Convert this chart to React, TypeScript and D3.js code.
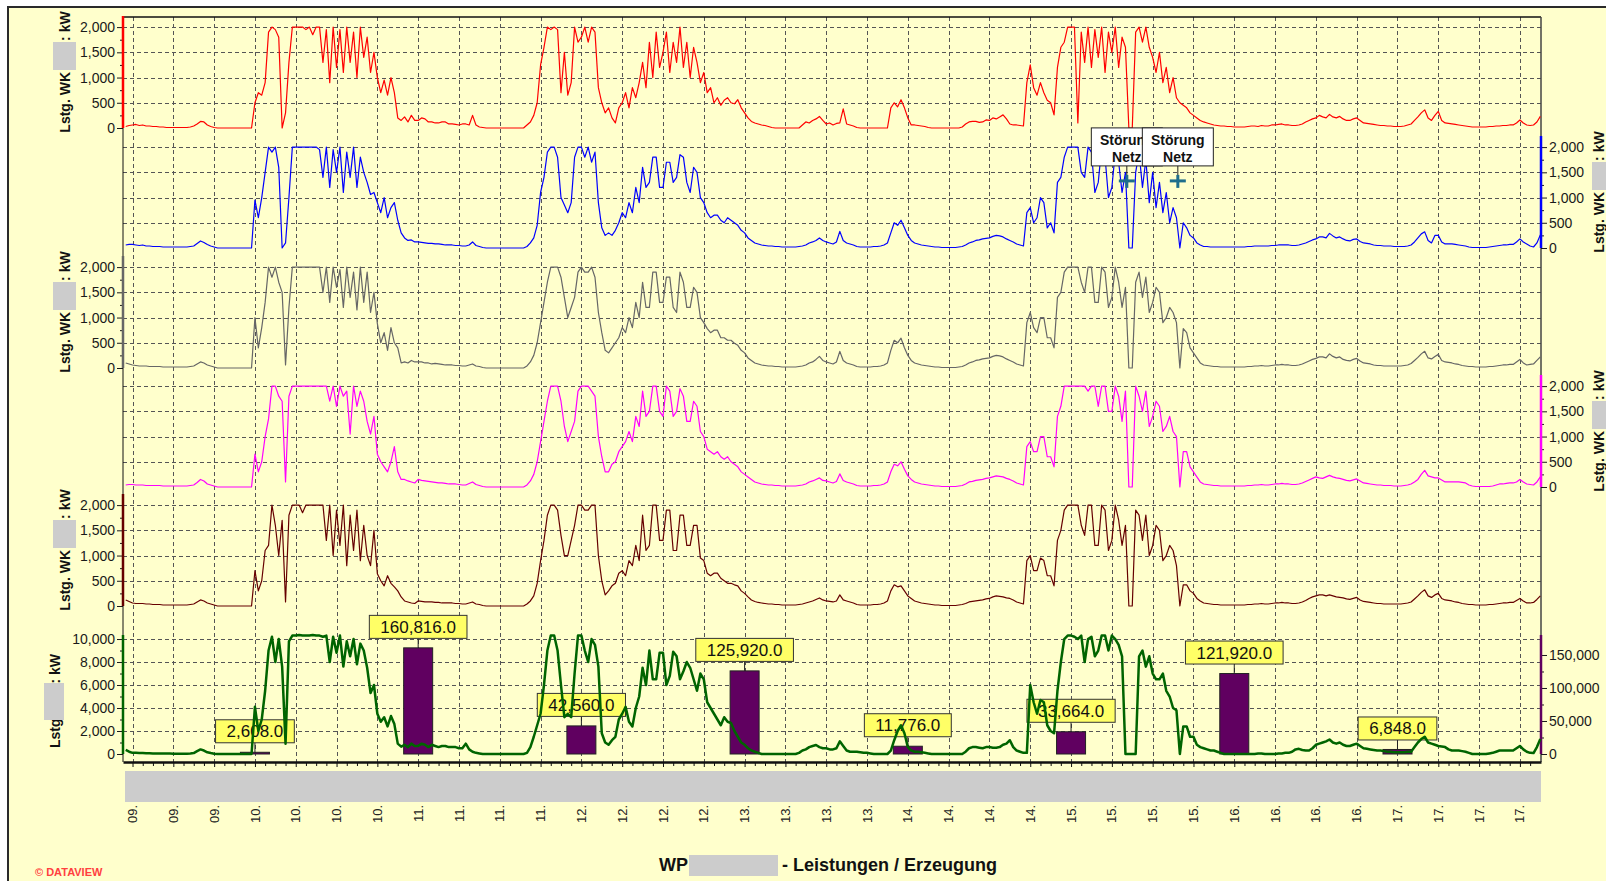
import { useRef, useEffect } from "react";
import * as d3 from "d3";

// half-hourly samples, first value = day 09, 05:00 (hours counted from day 09 00:00)
const firstHour = 5;
const stepHours = 0.5;
const dayLabels = ["09.", "10.", "11.", "12.", "13.", "14.", "15.", "16.", "17."];

const wk1Power = [
    30, 50, 60, 70, 50, 60, 40, 40, 30, 30, 20, 20, 10, 10, 10, 10, 10, 10, 10, 20, 40, 80, 130, 120, 60, 30, 10, 0, 0, 0, 0, 0, 0, 0, 0, 0, 0, 0,
    500, 700, 650, 900, 1900, 2000, 1950, 1800, 0, 300, 1300, 2000, 2000, 2000, 2000, 1950, 2000, 1850, 2000, 2000, 1300, 1950, 900, 2000,
    1200, 1950, 1100, 2000, 1300, 1900, 1000, 2000, 1400, 1800, 1100, 1500, 1000, 700, 950, 650, 1000, 700, 200, 150, 220, 120, 250, 150,
    150, 200, 180, 120, 120, 100, 100, 120, 120, 80, 80, 70, 60, 80, 80, 60, 250, 60, 20, 10, 0, 0, 0, 0, 0, 0,
    0, 0, 0, 0, 0, 0, 60, 120, 250, 500, 1250, 1600, 2000, 1950, 2000, 1950, 700, 1500, 650, 900, 2000, 1700,
    1800, 2000, 1700, 2000, 1900, 800, 500, 300, 400, 200, 100, 400, 500, 700, 400, 800, 600, 900, 1300, 800, 1700, 1000, 1900, 1200,
    1500, 1900, 1100, 1700, 1300, 2000, 1200, 1700, 1000, 1600, 1300, 900, 1100, 700, 800, 500, 600, 450, 550, 600, 500, 480, 560, 400,
    300, 200, 130, 100, 80, 60, 50, 30, 10, 0, 0, 0, 0, 0, 0, 0, 0, 60, 120, 100, 150, 180, 230, 150,
    80, 100, 60, 90, 100, 380, 80, 60, 40, 10, 0, 0, 0, 0, 0, 0, 0, 0, 0, 400, 500, 420, 560, 400,
    200, 60, 60, 50, 40, 30, 10, 0, 0, 0, 0, 0, 0, 0, 0, 0, 20, 80, 120, 130, 130, 110, 120, 160,
    150, 200, 180, 220, 260, 180, 80, 60, 60, 50, 40, 900, 1250, 800, 650, 900, 700, 550, 500, 260, 1200, 1600, 1700, 2000,
    2000, 2000, 100, 1900, 1300, 2000, 1200, 1950, 1400, 2000, 1100, 1900, 1500, 2000, 1200, 1800, 1600, 0, 0, 1900, 2000, 1700, 2000, 1600,
    1400, 1100, 1500, 900, 1200, 700, 1000, 600, 500, 450, 400, 300, 250, 200, 150, 120, 100, 80, 60, 50, 40, 40, 30, 30,
    20, 20, 20, 20, 30, 40, 40, 30, 50, 40, 40, 60, 60, 70, 80, 60, 60, 50, 50, 60, 80, 120, 150, 180,
    200, 250, 220, 200, 270, 220, 200, 230, 180, 150, 150, 180, 200, 150, 100, 90, 80, 70, 60, 50, 50, 40, 40, 30,
    30, 30, 40, 60, 80, 150, 220, 300, 360, 200, 150, 250, 330, 150, 100, 90, 80, 70, 60, 50, 40, 30,
    20, 20, 20, 20, 20, 30, 30, 40, 40, 50, 50, 60, 60, 100, 160, 100, 60, 50, 60, 120, 230,
];

const wk2Power = [
    60, 70, 70, 60, 50, 60, 40, 40, 30, 30, 30, 20, 20, 20, 20, 20, 20, 20, 20, 30, 40, 90, 140, 110, 70, 40, 20, 0, 0, 0, 0, 0, 0, 0, 0, 0, 0, 0,
    950, 600, 1000, 1500, 2000, 1900, 2000, 1600, 0, 100, 1000, 2000, 2000, 2000, 2000, 2000, 2000, 2000, 2000, 1950, 1400, 2000, 1200, 1950,
    1500, 2000, 1100, 1900, 1400, 2000, 1200, 1800, 1500, 1300, 1060, 1100, 900, 700, 1000, 600, 800, 900, 550, 300, 200, 150, 160, 120,
    120, 110, 100, 90, 90, 80, 80, 70, 60, 60, 60, 50, 50, 40, 40, 60, 120, 50, 30, 10, 0, 0, 0, 0, 0, 0,
    0, 0, 0, 0, 0, 0, 30, 100, 200, 450, 1100, 1400, 1900, 2000, 2000, 1800, 1000, 850, 700, 900, 1800, 2000,
    2000, 1800, 2000, 1700, 1900, 900, 400, 250, 300, 250, 350, 500, 700, 600, 900, 700, 1200, 900, 1600, 1200, 1300, 1800, 1800, 1200,
    1200, 1700, 1700, 1300, 1400, 1850, 1800, 1300, 1100, 1600, 1500, 1000, 900, 700, 600, 650, 650, 550, 500, 600, 550, 500, 450, 350,
    300, 200, 150, 100, 80, 60, 50, 40, 40, 30, 30, 20, 20, 20, 20, 20, 30, 40, 60, 100, 120, 150, 200, 150,
    120, 100, 80, 120, 330, 150, 100, 80, 60, 30, 20, 20, 20, 20, 30, 30, 40, 60, 100, 300, 500, 450, 550, 400,
    250, 150, 100, 80, 60, 50, 40, 30, 20, 20, 10, 10, 10, 10, 10, 20, 30, 60, 100, 120, 150, 160, 180, 190,
    200, 230, 250, 240, 220, 180, 150, 120, 80, 60, 40, 700, 800, 500, 600, 1000, 900, 400, 500, 300, 1300, 1400, 1800, 2000,
    2000, 2000, 2000, 1500, 1400, 2000, 1900, 1100, 1300, 2000, 1800, 1000, 1200, 1900, 1700, 1100, 1500, 0, 0, 1500, 1900, 1200, 1750, 900,
    1500, 800, 1300, 700, 1100, 500, 800, 600, 0, 500, 400, 250, 200, 100, 60, 30, 30, 20, 20, 20, 20, 20, 20, 20,
    20, 20, 20, 20, 30, 30, 40, 40, 40, 40, 40, 50, 50, 60, 60, 60, 60, 50, 50, 60, 80, 100, 130, 160,
    180, 220, 220, 200, 290, 240, 200, 220, 180, 150, 140, 170, 180, 130, 100, 90, 80, 60, 50, 50, 40, 40, 40, 30,
    30, 30, 30, 40, 60, 120, 200, 280, 320, 150, 100, 250, 250, 120, 80, 80, 80, 70, 60, 50, 40, 20,
    10, 10, 10, 10, 10, 20, 30, 40, 50, 60, 60, 70, 70, 120, 180, 120, 80, 40, 20, 100, 260,
];

const wk3Power = [
    100, 80, 60, 50, 40, 40, 40, 30, 30, 30, 30, 20, 20, 20, 20, 20, 20, 20, 20, 30, 40, 80, 120, 100, 60, 40, 20, 0, 0, 0, 0, 0, 0, 0, 0, 0, 0, 0,
    1000, 400, 800, 1300, 2000, 1800, 2000, 1700, 1500, 60, 1200, 2000, 2000, 2000, 2000, 2000, 2000, 2000, 2000, 2000, 1500, 2000, 1300, 2000,
    1600, 1950, 1200, 2000, 1400, 1900, 1150, 2000, 1300, 1900, 1100, 1500, 880, 500, 700, 350, 800, 500, 400, 100, 120, 100, 150, 120,
    120, 120, 100, 100, 80, 90, 80, 70, 60, 60, 60, 50, 50, 40, 40, 60, 80, 40, 30, 10, 0, 0, 0, 0, 0, 0,
    0, 0, 0, 0, 0, 0, 40, 120, 250, 500, 900, 1300, 1700, 2000, 2000, 2000, 1800, 1400, 1000, 1200, 1400, 1900,
    2000, 1900, 1900, 2000, 1800, 1100, 700, 350, 300, 400, 500, 600, 800, 700, 1000, 800, 1300, 1000, 1700, 1200, 1200, 1900, 1900, 1300,
    1300, 1800, 1800, 1200, 1100, 1900, 1700, 1200, 1200, 1600, 1500, 1000, 900, 780, 700, 750, 750, 600, 600, 550, 550, 490, 450, 350,
    300, 200, 150, 100, 80, 60, 50, 40, 40, 30, 30, 20, 20, 20, 20, 20, 30, 40, 60, 100, 120, 170, 230, 150,
    120, 100, 80, 120, 330, 150, 100, 80, 60, 30, 20, 20, 20, 20, 30, 30, 40, 60, 100, 350, 550, 500, 590, 400,
    250, 150, 100, 80, 60, 50, 40, 30, 20, 20, 10, 10, 10, 10, 10, 20, 30, 60, 100, 120, 150, 160, 180, 190,
    200, 230, 250, 240, 220, 180, 150, 120, 80, 60, 40, 900, 1100, 800, 700, 1000, 1000, 600, 600, 400, 1400, 1500, 1900, 2000,
    2000, 2000, 2000, 1700, 1500, 2000, 2000, 1300, 1300, 2000, 1900, 1200, 1400, 2000, 1700, 1200, 1600, 0, 0, 1700, 1900, 1400, 1800, 1100,
    1300, 1600, 1500, 900, 1000, 1200, 1100, 900, 0, 780, 700, 400, 300, 200, 100, 60, 50, 40, 30, 30, 20, 20, 20, 20,
    20, 20, 20, 20, 30, 30, 40, 40, 50, 40, 40, 50, 60, 60, 70, 60, 60, 50, 50, 60, 80, 110, 140, 170,
    190, 220, 220, 200, 280, 230, 200, 220, 170, 150, 140, 170, 190, 140, 100, 90, 80, 60, 50, 50, 40, 40, 40, 40,
    40, 40, 50, 60, 90, 150, 210, 280, 330, 200, 180, 230, 270, 150, 120, 110, 100, 80, 70, 50, 40, 30,
    30, 20, 20, 20, 20, 30, 30, 40, 50, 60, 60, 70, 70, 120, 170, 100, 60, 70, 80, 150, 220,
];

const wk4Power = [
    40, 50, 50, 40, 40, 40, 30, 30, 30, 30, 30, 20, 20, 20, 20, 20, 20, 20, 20, 30, 40, 90, 150, 120, 60, 40, 20, 0, 0, 0, 0, 0, 0, 0, 0, 0, 0, 0,
    650, 300, 500, 1000, 1350, 2000, 2000, 1800, 1700, 100, 1800, 2000, 2000, 2000, 2000, 2000, 2000, 2000, 2000, 2000, 2000, 2000, 1700, 2000,
    1600, 2000, 1800, 1900, 1050, 2000, 1600, 1900, 1700, 1300, 1050, 1400, 650, 500, 400, 300, 500, 800, 300, 150, 150, 120, 100, 80,
    150, 130, 120, 110, 100, 90, 80, 80, 70, 60, 60, 60, 50, 40, 40, 70, 100, 50, 30, 10, 0, 0, 0, 0, 0, 0,
    0, 0, 0, 0, 0, 0, 40, 120, 250, 500, 900, 1300, 1700, 2000, 2000, 2000, 1700, 1200, 900, 1100, 1300, 1900,
    2000, 2000, 2000, 1900, 1800, 1000, 600, 300, 300, 450, 500, 700, 800, 900, 1100, 900, 1400, 1200, 1900, 1400, 1500, 2000, 2000, 1500,
    1400, 2000, 1900, 1400, 1500, 1950, 1800, 1300, 1300, 1700, 1600, 1100, 1000, 750, 700, 650, 700, 600, 550, 600, 500, 450, 400, 300,
    250, 200, 150, 100, 80, 60, 50, 40, 40, 30, 30, 20, 20, 20, 20, 20, 30, 40, 60, 100, 120, 150, 180, 130,
    120, 100, 80, 110, 260, 130, 100, 80, 60, 30, 20, 20, 20, 20, 30, 30, 40, 60, 100, 300, 450, 420, 500, 350,
    220, 150, 100, 80, 60, 50, 40, 30, 20, 20, 10, 10, 10, 10, 10, 20, 30, 60, 100, 110, 130, 140, 150, 170,
    180, 200, 220, 210, 200, 170, 150, 120, 80, 60, 40, 800, 900, 700, 700, 1000, 1000, 600, 600, 400, 1400, 1600, 2000, 2000,
    2000, 2000, 2000, 2000, 2000, 1900, 2000, 2000, 1600, 2000, 2000, 1500, 1500, 2000, 1800, 1300, 1900, 0, 0, 2000, 1800, 1500, 1900, 1200,
    1400, 1700, 1600, 1100, 1200, 1400, 1100, 1000, 0, 700, 700, 400, 300, 200, 100, 60, 50, 40, 30, 30, 20, 20, 20, 20,
    20, 20, 20, 20, 30, 30, 40, 40, 50, 40, 40, 50, 60, 60, 70, 60, 60, 50, 50, 60, 80, 110, 140, 170,
    200, 180, 170, 200, 230, 200, 180, 170, 150, 130, 120, 140, 160, 120, 80, 70, 60, 50, 40, 40, 30, 30, 30, 20,
    20, 20, 30, 40, 60, 100, 150, 250, 330, 220, 200, 180, 180, 140, 100, 100, 100, 100, 100, 90, 80, 40,
    20, 10, 10, 10, 10, 10, 20, 40, 60, 60, 70, 80, 80, 100, 150, 100, 60, 50, 40, 100, 200,
];

const wk5Power = [
    120, 90, 60, 50, 50, 50, 40, 40, 30, 30, 30, 20, 20, 20, 20, 20, 20, 20, 20, 30, 40, 80, 120, 100, 60, 40, 20, 0, 0, 0, 0, 0, 0, 0, 0, 0, 0, 0,
    700, 300, 500, 1100, 1200, 2000, 1600, 1000, 1700, 80, 1800, 2000, 2000, 2000, 1850, 2000, 2000, 2000, 2000, 2000, 2000, 1300, 2000, 1000,
    1900, 1200, 2000, 800, 1800, 1100, 1900, 900, 1600, 1000, 800, 1500, 640, 500, 400, 600, 450, 380, 300, 180, 100, 80, 60, 50,
    100, 90, 80, 80, 80, 70, 70, 60, 60, 60, 60, 50, 50, 40, 40, 60, 80, 40, 30, 10, 0, 0, 0, 0, 0, 0,
    0, 0, 0, 0, 0, 0, 40, 100, 200, 450, 900, 1300, 1800, 2000, 2000, 1900, 1400, 1000, 1000, 1300, 1600, 2000,
    2000, 1900, 1900, 2000, 2000, 1000, 500, 220, 300, 400, 450, 650, 700, 600, 900, 800, 1200, 900, 1800, 1100, 1200, 2000, 2000, 1300,
    1300, 1900, 1900, 1100, 1100, 1800, 1800, 1200, 1200, 1600, 1600, 950, 900, 650, 600, 650, 650, 550, 500, 450, 450, 420, 400, 300,
    250, 180, 120, 90, 70, 60, 50, 40, 40, 30, 30, 20, 20, 20, 20, 20, 30, 40, 60, 80, 100, 130, 160, 120,
    100, 90, 80, 100, 220, 120, 100, 80, 60, 30, 20, 20, 20, 20, 30, 30, 40, 60, 100, 300, 420, 380, 400, 300,
    200, 150, 100, 80, 60, 50, 40, 30, 20, 20, 10, 10, 10, 10, 10, 20, 30, 50, 80, 90, 100, 110, 120, 140,
    150, 180, 200, 190, 180, 160, 150, 120, 80, 60, 40, 900, 1000, 700, 700, 950, 900, 600, 600, 400, 1300, 1500, 1900, 2000,
    2000, 2000, 2000, 1600, 1400, 2000, 2000, 1200, 1200, 2000, 1900, 1100, 1300, 2000, 1700, 1200, 1600, 0, 0, 1900, 1800, 1300, 1800, 1000,
    1200, 1600, 1500, 900, 1000, 1200, 1100, 800, 0, 420, 420, 300, 250, 150, 100, 60, 50, 40, 30, 30, 20, 20, 20, 20,
    20, 20, 20, 20, 30, 30, 40, 40, 50, 40, 40, 50, 60, 60, 70, 60, 60, 50, 50, 60, 80, 110, 150, 180,
    200, 220, 220, 200, 220, 200, 180, 170, 160, 140, 130, 150, 170, 120, 90, 80, 70, 60, 50, 50, 40, 40, 40, 40,
    40, 40, 50, 60, 80, 140, 200, 270, 320, 200, 170, 220, 250, 150, 120, 110, 100, 80, 70, 50, 40, 30,
    30, 20, 20, 20, 20, 30, 30, 40, 50, 60, 60, 70, 70, 110, 150, 100, 60, 60, 70, 130, 200,
];

const parkPower = [
    350, 200, 100, 100, 80, 90, 60, 60, 50, 50, 50, 40, 40, 40, 30, 30, 30, 30, 30, 50, 80, 250, 400, 300, 150, 80, 30, 0, 0, 0, 0, 0, 0, 0, 0, 0, 0, 0,
    4100, 2000, 3000, 5500, 9000, 10200, 8000, 10000, 7600, 900, 9800, 10300, 10300, 10350, 10300, 10300, 10300, 10350, 10300, 10300, 10200, 10300, 8000, 10200,
    8800, 10300, 7600, 9800, 8500, 10000, 7800, 9600, 9000, 7500, 5300, 6000, 3500, 2800, 3200, 2400, 3300, 2600, 900, 640, 800, 600, 900, 700,
    700, 900, 800, 600, 800, 700, 600, 700, 700, 600, 600, 600, 500, 500, 900, 400, 200, 100, 50, 0, 0, 0, 0, 0, 0, 0,
    0, 0, 0, 0, 0, 0, 100, 600, 1500, 2500, 3500, 6000, 9000, 10300, 10300, 9000, 6000, 3200, 3500, 3200, 7000, 10300,
    10300, 9000, 8000, 10000, 9500, 7600, 1800, 1000, 800, 1200, 1500, 3000, 3500, 4100, 2800, 2400, 4000, 5000, 7500, 6000, 9000, 6500, 6500, 8800,
    8800, 6000, 6800, 8900, 8500, 6500, 7200, 8000, 7500, 6500, 5500, 7000, 6500, 4500, 4000, 3500, 3000, 2500, 3200, 2800, 2700, 2000, 1500, 1000,
    800, 500, 300, 200, 100, 0, 0, 0, 0, 0, 0, 0, 0, 0, 0, 0, 100, 300, 400, 600, 700, 780, 600, 500,
    500, 400, 400, 500, 1100, 700, 300, 200, 200, 200, 150, 100, 100, 50, 0, 0, 0, 0, 0, 300, 1200, 2000, 2500, 1800,
    600, 300, 200, 200, 150, 100, 50, 0, 0, 0, 0, 0, 0, 0, 0, 0, 0, 200, 500, 600, 600, 550, 500, 600,
    600, 550, 550, 600, 800, 900, 1200, 600, 300, 200, 100, 100, 6000, 4500, 3500, 4700, 4500, 2500, 2000, 1800, 5500, 8000, 10000, 10300,
    10300, 10200, 10000, 10300, 8000, 10000, 10200, 8500, 9000, 10300, 10300, 9000, 10300, 10000, 9500, 8500, 0, 0, 0, 0, 8500, 9000, 7600, 8500,
    7000, 6500, 6500, 7000, 5500, 5000, 4000, 3800, 0, 2400, 2400, 1500, 1500, 800, 600, 500, 400, 300, 300, 200, 100, 0, 0, 0,
    0, 0, 0, 0, 0, 0, 0, 50, 50, 0, 0, 0, 0, 50, 50, 100, 100, 200, 400, 450, 350, 300, 300, 500,
    800, 900, 1000, 1100, 1260, 1000, 900, 1000, 800, 700, 700, 800, 900, 700, 500, 450, 400, 350, 300, 300, 250, 200, 200, 150,
    150, 150, 150, 200, 200, 600, 1000, 1300, 1500, 1000, 900, 800, 700, 650, 600, 400, 300, 300, 300, 250, 200, 100,
    0, 0, 0, 0, 0, 50, 100, 200, 300, 300, 300, 300, 300, 500, 700, 400, 200, 100, 80, 600, 1300,
];

// daily energy (kWh), bar drawn at the end of each day (09. .. 16.)
const energyValues = [2608, 160816, 42560, 125920, 11776, 33664, 121920, 6848];

const wkTicks = [0, 500, 1000, 1500, 2000];
const wkMinor = [250, 750, 1250, 1750];
const parkTicks = [0, 2000, 4000, 6000, 8000, 10000];
const parkMinor = [1000, 3000, 5000, 7000, 9000];
const energyTicks = [0, 50000, 100000, 150000];
const energyMinor = [25000, 75000, 125000];

const faults = [
    { hour: 152.2, value: 1330, lines: ["Störung", "Netz"] },
    { hour: 159.7, value: 1330, lines: ["Störung", "Netz"] },
];

const FONT = "'Liberation Sans', Arial, Helvetica, sans-serif";

export default function App() {
    const svgRef = useRef<SVGSVGElement | null>(null);

    useEffect(() => {
        if (!svgRef.current) return;
        const svg = d3.select(svgRef.current);
        svg.selectAll("*").remove();

        const W = 1606, H = 881;
        const left = 123, right = 1541, top = 17, axisY = 762;

        const x = d3.scaleLinear().domain([4.6, 213.1]).range([left, right]);
        const hourAt = (i: number) => firstHour + i * stepHours;
        const majorHours = d3.range(6, 211, 6);
        const minorHours = d3.range(7.5, 213, 1.5).filter(h => h % 6 !== 0);

        const panels = [
            { data: wk1Power, color: "#ff0000", bottom: 128, side: "left" },
            { data: wk2Power, color: "#0000ff", bottom: 248, side: "right" },
            { data: wk3Power, color: "#666666", bottom: 368, side: "left" },
            { data: wk4Power, color: "#ff00ff", bottom: 487, side: "right" },
            { data: wk5Power, color: "#660000", bottom: 606, side: "left" },
        ];
        const panelH = 112;
        const parkBottom = 754, parkTop = 635;
        const yPark = d3.scaleLinear().domain([0, 10350]).range([parkBottom, parkTop]);
        const yEnergy = d3.scaleLinear().domain([0, 180300]).range([parkBottom, parkTop]);

        // background + frame
        svg.append("rect").attr("width", W).attr("height", H).attr("fill", "#ffffff");
        svg.append("rect")
            .attr("x", 8).attr("y", 7).attr("width", W + 20).attr("height", H + 20)
            .attr("fill", "#ffffcc").attr("stroke", "#2a2a2a").attr("stroke-width", 2);

        // grid
        const grid = svg.append("g")
            .attr("stroke", "#555").attr("stroke-width", 1).attr("stroke-dasharray", "4,3");
        grid.selectAll("line.v").data(majorHours).join("line")
            .attr("x1", d => Math.round(x(d)) + 0.5).attr("x2", d => Math.round(x(d)) + 0.5)
            .attr("y1", top).attr("y2", axisY);

        const yScales = panels.map(p =>
            d3.scaleLinear().domain([0, 2220]).range([p.bottom, p.bottom - panelH]));

        yScales.forEach(y => {
            grid.append("g").selectAll("line").data(wkTicks.filter(t => t > 0)).join("line")
                .attr("x1", left).attr("x2", right)
                .attr("y1", d => Math.round(y(d)) + 0.5).attr("y2", d => Math.round(y(d)) + 0.5);
        });
        grid.append("g").selectAll("line").data(parkTicks.filter(t => t > 0)).join("line")
            .attr("x1", left).attr("x2", right)
            .attr("y1", d => Math.round(yPark(d)) + 0.5).attr("y2", d => Math.round(yPark(d)) + 0.5);

        // plot border
        svg.append("line").attr("x1", left).attr("x2", right).attr("y1", top).attr("y2", top)
            .attr("stroke", "#111").attr("stroke-width", 1.5);
        svg.append("line").attr("x1", left).attr("x2", left).attr("y1", top).attr("y2", axisY)
            .attr("stroke", "#111").attr("stroke-width", 1);
        svg.append("line").attr("x1", right).attr("x2", right).attr("y1", top).attr("y2", axisY)
            .attr("stroke", "#444").attr("stroke-width", 1.5);

        // turbine series
        panels.forEach((p, k) => {
            const y = yScales[k];
            const line = d3.line<number>()
                .x((_, i) => x(hourAt(i)))
                .y(d => y(d));
            svg.append("path")
                .datum(p.data)
                .attr("d", line)
                .attr("fill", "none")
                .attr("stroke", p.color)
                .attr("stroke-width", 1.2)
                .attr("stroke-linejoin", "round");
        });

        const fmt = d3.format(",");

        const drawAxis = (
            y: d3.ScaleLinear<number, number>, ticks: number[], minor: number[],
            side: string, color: string, y0: number, y1: number
        ) => {
            const ax = side === "left" ? left : right;
            const mk = side === "left" ? d3.axisLeft : d3.axisRight;
            const g = svg.append("g").attr("transform", `translate(${ax},0)`)
                .call(mk(y).tickValues(ticks).tickFormat(d => fmt(d as number)).tickSize(6).tickPadding(2).tickSizeOuter(0));
            g.select(".domain").remove();
            g.attr("font-size", 14).attr("font-family", FONT).attr("color", "#1a1a1a");
            const gm = svg.append("g").attr("transform", `translate(${ax},0)`)
                .call(mk(y).tickValues(minor).tickFormat(() => "").tickSize(3).tickSizeOuter(0));
            gm.select(".domain").remove();
            gm.attr("color", "#1a1a1a");
            svg.append("line").attr("x1", ax).attr("x2", ax).attr("y1", y0).attr("y2", y1)
                .attr("stroke", color).attr("stroke-width", 2.5);
        };

        panels.forEach((p, k) => {
            drawAxis(yScales[k], wkTicks, wkMinor, p.side, p.color, p.bottom, p.bottom - panelH);
        });
        drawAxis(yPark, parkTicks, parkMinor, "left", "#006400", parkBottom, parkTop);
        drawAxis(yEnergy, energyTicks, energyMinor, "right", "#600060", parkBottom, parkTop);

        // y titles (name part is masked by a grey box, as in the source)
        const nb = "\u00a0".repeat(8);
        const yTitle = (cx: number, cy: number, txt: string, box: [number, number, number, number]) => {
            svg.append("text")
                .attr("transform", `translate(${cx},${cy}) rotate(-90)`)
                .attr("text-anchor", "middle").attr("dy", "0.35em")
                .attr("font-family", FONT).attr("font-size", 14).attr("font-weight", "bold")
                .attr("fill", "#111")
                .text(txt);
            svg.append("rect")
                .attr("x", box[0]).attr("y", box[1]).attr("width", box[2]).attr("height", box[3])
                .attr("fill", "#cccccc");
        };
        panels.forEach(p => {
            const cy = p.bottom - panelH / 2;
            if (p.side === "left") {
                yTitle(65, cy, `Lstg. WK${nb}: kW`, [53, cy - 30, 23, 28]);
            } else {
                yTitle(1599, cy, `Lstg. WK${nb}: kW`, [1592, cy - 30, 20, 28]);
            }
        });
        yTitle(55, 701, `Lstg${"\u00a0".repeat(9)}: kW`, [44, 683, 20, 37]);

        // daily energy bars
        const barW = 29;
        const bars = svg.append("g");
        energyValues.forEach((v, i) => {
            const cx = x(24 * (i + 1));
            const yt = yEnergy(v);
            bars.append("rect")
                .attr("x", cx - barW / 2).attr("y", yt)
                .attr("width", barW).attr("height", Math.max(1, yEnergy(0) - yt))
                .attr("fill", "#600060").attr("stroke", "#222").attr("stroke-width", 1);
            const boxBottom = yt - 9.5;
            const boxH = 23;
            bars.append("line")
                .attr("x1", cx).attr("x2", cx).attr("y1", boxBottom).attr("y2", yt)
                .attr("stroke", "#222");
            const rect = bars.append("rect")
                .attr("y", boxBottom - boxH).attr("height", boxH)
                .attr("fill", "#ffff66").attr("stroke", "#333").attr("stroke-width", 1);
            const t = bars.append("text")
                .attr("x", cx).attr("y", boxBottom - 5.5)
                .attr("text-anchor", "middle")
                .attr("font-family", FONT).attr("font-size", 17).attr("fill", "#111")
                .text(d3.format(",.1f")(v));
            const w = (t.node() as SVGTextElement).getComputedTextLength();
            rect.attr("x", cx - w / 2 - 11).attr("width", w + 22);
        });

        // park total
        const parkLine = d3.line<number>()
            .x((_, i) => x(hourAt(i)))
            .y(d => yPark(d));
        svg.append("path")
            .datum(parkPower)
            .attr("d", parkLine)
            .attr("fill", "none")
            .attr("stroke", "#006400")
            .attr("stroke-width", 2.5)
            .attr("stroke-linejoin", "round");

        // fault annotations on WK2
        const yWk2 = yScales[1];
        faults.forEach(f => {
            const fx = x(f.hour), fy = yWk2(f.value);
            const g = svg.append("g");
            const bw = 71, bh = 38;
            const by = fy - 15 - bh;
            g.append("line").attr("x1", fx).attr("x2", fx).attr("y1", by + bh).attr("y2", fy)
                .attr("stroke", "#222");
            g.append("line").attr("x1", fx - 8).attr("x2", fx + 8).attr("y1", fy).attr("y2", fy)
                .attr("stroke", "#1e6e8c").attr("stroke-width", 3);
            g.append("line").attr("x1", fx).attr("x2", fx).attr("y1", fy - 6).attr("y2", fy + 7)
                .attr("stroke", "#1e6e8c").attr("stroke-width", 3);
            g.append("rect").attr("x", fx - bw / 2).attr("y", by).attr("width", bw).attr("height", bh)
                .attr("fill", "#ffffff").attr("stroke", "#222").attr("stroke-width", 1);
            f.lines.forEach((s, j) => {
                g.append("text")
                    .attr("x", fx).attr("y", by + 17 + j * 17)
                    .attr("text-anchor", "middle")
                    .attr("font-family", FONT).attr("font-size", 14).attr("font-weight", "bold")
                    .attr("fill", "#111")
                    .text(s);
            });
        });

        // x axis
        const xa = svg.append("g").attr("transform", `translate(0,${axisY})`)
            .call(d3.axisBottom(x).tickValues(majorHours).tickFormat(() => "").tickSize(5).tickSizeOuter(0));
        xa.select(".domain").attr("stroke-width", 2.5);
        xa.attr("color", "#111");
        const xm = svg.append("g").attr("transform", `translate(0,${axisY})`)
            .call(d3.axisBottom(x).tickValues(minorHours).tickFormat(() => "").tickSize(4).tickSizeOuter(0));
        xm.select(".domain").remove();
        xm.attr("color", "#111");

        svg.append("rect").attr("x", 125).attr("y", 771).attr("width", right - 125).attr("height", 31)
            .attr("fill", "#cccccc");

        svg.append("g").selectAll("text").data(majorHours).join("text")
            .attr("transform", d => `translate(${x(d)},805) rotate(-90)`)
            .attr("text-anchor", "end").attr("dy", "0.35em")
            .attr("font-family", FONT).attr("font-size", 13).attr("fill", "#222")
            .text(d => dayLabels[Math.floor(d / 24)]);

        // footer
        svg.append("text").attr("x", 659).attr("y", 871)
            .attr("font-family", FONT).attr("font-size", 18).attr("font-weight", "bold").attr("fill", "#111")
            .text("WP");
        svg.append("rect").attr("x", 689).attr("y", 855).attr("width", 89).attr("height", 21).attr("fill", "#cccccc");
        svg.append("text").attr("x", 782).attr("y", 871)
            .attr("font-family", FONT).attr("font-size", 18).attr("font-weight", "bold").attr("fill", "#111")
            .text("- Leistungen / Erzeugung");
        svg.append("text").attr("x", 35).attr("y", 876)
            .attr("font-family", FONT).attr("font-size", 11).attr("font-weight", "bold").attr("fill", "#ff4040")
            .text("© DATAVIEW");
    }, []);

    return (
        <svg ref={svgRef} width={1606} height={881}
            style={{ position: "absolute", left: 0, top: 0, display: "block" }} />
    );
}
